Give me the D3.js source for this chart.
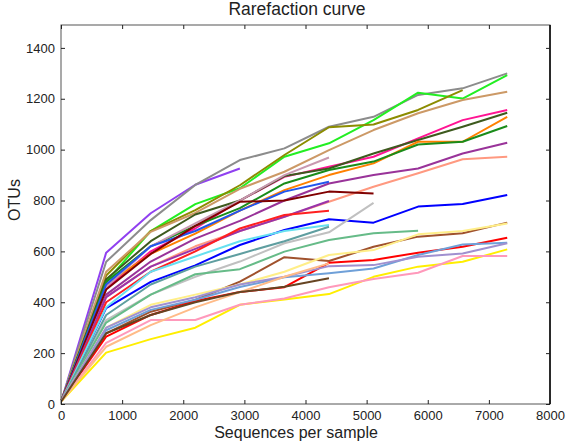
<!DOCTYPE html>
<html><head><meta charset="utf-8">
<script src="https://cdn.jsdelivr.net/npm/d3@7"></script>
<style>body{margin:0;background:#fff}svg{display:block}text{font-family:"Liberation Sans",Arial,sans-serif;fill:#222}</style>
</head><body><svg id="c" width="567" height="442"></svg>
<script>
const depths = [10, 739, 1468, 2197, 2926, 3655, 4384, 5113, 5842, 6571, 7300];
const xTicks = [0,1000,2000,3000,4000,5000,6000,7000,8000];
const yTicks = [0,200,400,600,800,1000,1200,1400];
const seriesColors = ["#9040f0","#8c8c8c","#22ee22","#8c8c00","#cc9966","#ff1493","#3d5a1e","#ff8000","#1a8c1a","#993399","#ff9980","#0000ff","#c898b0","#2255ee","#800000","#9933aa","#ff2020","#c0c0c0","#66e0f0","#5f9ea0","#66bb88","#a0522d","#ffee88","#ff0000","#6fa0d8","#a090d0","#ffee00","#ff99bb","#ffbb88","#664422"];
const seriesValues = [
 [15,595,750,862,926],
 [15,559,723,861,959,1005,1090,1129,1215,1241,1300],
 [15,481,680,786,848,972,1025,1116,1224,1201,1293],
 [15,505,680,762,860,979,1088,1099,1156,1234],
 [15,520,677,751,846,913,998,1077,1143,1195,1228],
 [15,455,600,690,800,893,933,972,1044,1116,1156],
 [15,490,640,745,800,896,926,985,1038,1090,1145],
 [15,470,590,670,760,841,900,946,1031,1031,1129],
 [15,480,620,700,770,867,920,953,1020,1031,1093],
 [15,430,560,650,720,800,867,900,926,985,1027],
 [15,420,540,620,680,736,795,854,907,962,972],
 [15,377,480,545,625,684,726,713,776,786,822],
 [15,460,620,710,800,900,969],
 [15,470,620,680,760,835,874],
 [15,450,590,700,795,800,835,828],
 [15,420,540,610,680,736,798],
 [15,400,520,600,690,743,760],
 [15,330,430,500,560,632,675,791],
 [15,380,520,580,640,680,704],
 [15,350,470,540,590,640,697],
 [15,320,430,510,530,599,645,671,681],
 [15,278,363,409,481,577,562,618,658,671,713],
 [15,300,390,430,470,520,586,605,667,680,710],
 [15,265,350,405,440,459,555,566,595,618,654],
 [15,290,370,410,460,498,514,533,586,627,634],
 [15,300,380,420,470,500,542,546,579,592,632],
 [12,202,255,300,390,411,432,500,540,559,608],
 [12,240,330,330,390,415,459,491,516,582,582],
 [12,225,310,380,440,500,553],
 [12,278,350,400,440,461,494]
];
const svg = d3.select("#c");
const L=61,R=550,T=25,B=404;
const x = d3.scaleLinear().domain([0,8000]).range([L,R]);
const y = d3.scaleLinear().domain([0,1490]).range([B,T]);
const g = svg.append("g");
const line = d3.line().x((d,i)=>x(depths[i])).y(d=>y(d));
seriesValues.forEach((v,k)=>{
  g.append("path").attr("d",line(v)).attr("fill","none").attr("stroke",seriesColors[k]).attr("stroke-width",2).attr("stroke-linejoin","round");
});
svg.append("rect").attr("x",L).attr("y",T).attr("width",R-L).attr("height",B-T).attr("fill","none").attr("stroke","#555").attr("stroke-width",1);
svg.append("line").attr("x1",R).attr("x2",R).attr("y1",T).attr("y2",B).attr("stroke","#000").attr("stroke-width",1.5);
const ax = svg.append("g").attr("transform",`translate(0,${B})`).call(d3.axisBottom(x).tickValues(xTicks).tickSize(-4).tickPadding(7).tickFormat(d3.format("d")));
const axT = svg.append("g").attr("transform",`translate(0,${T})`).call(d3.axisTop(x).tickValues(xTicks).tickSize(-4).tickFormat(""));
const ay = svg.append("g").attr("transform",`translate(${L},0)`).call(d3.axisLeft(y).tickValues(yTicks).tickSize(-4).tickPadding(6).tickFormat(d3.format("d")));
const ayR = svg.append("g").attr("transform",`translate(${R},0)`).call(d3.axisRight(y).tickValues(yTicks).tickSize(-4).tickFormat(""));
[ax,axT,ay,ayR].forEach(a=>{a.select(".domain").remove();a.selectAll("line").attr("stroke","#222");a.selectAll("text").attr("font-size",13).attr("fill","#222").attr("font-family","Liberation Sans, Arial, sans-serif");});
svg.append("text").attr("x",297).attr("y",15).attr("text-anchor","middle").attr("font-size",17.5).text("Rarefaction curve");
svg.append("text").attr("x",296).attr("y",438).attr("text-anchor","middle").attr("font-size",16).text("Sequences per sample");
svg.append("text").attr("transform","translate(20,200) rotate(-90)").attr("text-anchor","middle").attr("font-size",16).text("OTUs");
</script></body></html>
